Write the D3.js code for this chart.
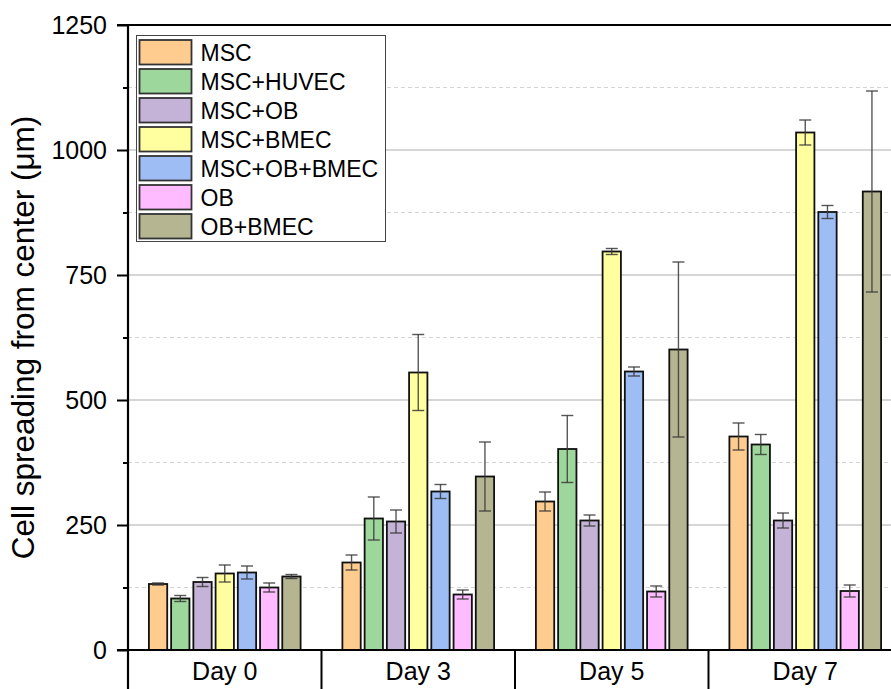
<!DOCTYPE html>
<html>
<head>
<meta charset="utf-8">
<script src="https://cdn.jsdelivr.net/npm/d3@7"></script>
<style>
  html, body { margin: 0; padding: 0; background: #fff; }
  svg { display: block; font-family: "Liberation Sans", Arial, sans-serif; }
</style>
</head>
<body>
<div id="chart"></div>
<script>
// Cell spreading grouped bar chart (mean ± error per group and day)

const days = ["Day 0", "Day 3", "Day 5", "Day 7"];
const groups = ["MSC", "MSC+HUVEC", "MSC+OB", "MSC+BMEC", "MSC+OB+BMEC", "OB", "OB+BMEC"];
const groupColors = ["#FFCC8F", "#9DD79B", "#C5B3D7", "#FFFFA0", "#9EBDF5", "#FFBBFF", "#B5B592"];

// values[group][day]
const means = [
  [132, 175, 297, 427],   // MSC
  [103, 263, 402, 411],   // MSC+HUVEC
  [136, 257, 259, 259],   // MSC+OB
  [153, 555, 797, 1035],  // MSC+BMEC
  [155, 317, 557, 876],   // MSC+OB+BMEC
  [125, 111, 117, 118],   // OB
  [147, 347, 601, 917]    // OB+BMEC
];
const errors = [
  [2, 15, 19, 27],
  [6, 43, 67, 20],
  [9, 23, 11, 15],
  [17, 76, 6, 25],
  [13, 14, 9, 13],
  [9, 9, 11, 12],
  [4, 69, 175, 201]
];

const yMajorTicks = [0, 250, 500, 750, 1000, 1250];
const yMinorTicks = [125, 375, 625, 875, 1125];

const width = 891, height = 689;
const margin = { top: 25, left: 128, bottom: 39 };
const plotRight = 902;
const y0 = height - margin.bottom;

const svg = d3.select("#chart").append("svg")
  .attr("width", width)
  .attr("height", height);

const x = d3.scaleBand(days, [margin.left, plotRight]).padding(0);
const xInner = d3.scaleBand(groups, [0, x.bandwidth()])
  .paddingInner(0.176)
  .paddingOuter(0.94);
const y = d3.scaleLinear([0, 1250], [y0, margin.top]);
const color = d3.scaleOrdinal(groups, groupColors);

// grid
svg.append("g")
  .selectAll("line.minor")
  .data(yMinorTicks)
  .join("line")
  .attr("x1", margin.left).attr("x2", plotRight)
  .attr("y1", d => y(d)).attr("y2", d => y(d))
  .attr("stroke", "#d4d4d4")
  .attr("stroke-width", 1)
  .attr("stroke-dasharray", "4,3");

svg.append("g")
  .selectAll("line.major")
  .data(yMajorTicks.filter(d => d > 0 && d < 1250))
  .join("line")
  .attr("x1", margin.left).attr("x2", plotRight)
  .attr("y1", d => y(d)).attr("y2", d => y(d))
  .attr("stroke", "#c8c8c8")
  .attr("stroke-width", 1.6);

// bars
const rows = [];
groups.forEach((g, gi) => days.forEach((day, di) => {
  rows.push({ group: g, day, value: means[gi][di], err: errors[gi][di] });
}));

const barG = svg.append("g");
barG.selectAll("rect")
  .data(rows)
  .join("rect")
  .attr("x", d => x(d.day) + xInner(d.group))
  .attr("y", d => y(d.value))
  .attr("width", xInner.bandwidth())
  .attr("height", d => y(0) - y(d.value))
  .attr("fill", d => color(d.group))
  .attr("stroke", "#111")
  .attr("stroke-width", 1.8);

// error bars
const errG = svg.append("g")
  .attr("stroke", "#3a3a3a")
  .attr("stroke-opacity", 0.85)
  .attr("stroke-width", 1.4);
const cx = d => x(d.day) + xInner(d.group) + xInner.bandwidth() / 2;
errG.selectAll("line.stem")
  .data(rows)
  .join("line")
  .attr("x1", cx).attr("x2", cx)
  .attr("y1", d => y(d.value + d.err))
  .attr("y2", d => y(d.value - d.err));
errG.selectAll("line.capTop")
  .data(rows)
  .join("line")
  .attr("x1", d => cx(d) - 6).attr("x2", d => cx(d) + 6)
  .attr("y1", d => y(d.value + d.err)).attr("y2", d => y(d.value + d.err));
errG.selectAll("line.capBot")
  .data(rows)
  .join("line")
  .attr("x1", d => cx(d) - 6).attr("x2", d => cx(d) + 6)
  .attr("y1", d => y(d.value - d.err)).attr("y2", d => y(d.value - d.err));

// y axis with outward ticks
const yAxis = d3.axisLeft(y).tickValues(yMajorTicks).tickFormat(d3.format("d"))
  .tickSize(11).tickPadding(10);
const yAxisG = svg.append("g")
  .attr("transform", `translate(${margin.left},0)`)
  .call(yAxis);
yAxisG.select(".domain").remove();
yAxisG.selectAll(".tick line").attr("stroke", "#000").attr("stroke-width", 2);
yAxisG.selectAll(".tick text")
  .attr("font-size", 25)
  .attr("fill", "#000")
  .attr("font-family", "Liberation Sans, Arial, sans-serif");

const yMinorG = svg.append("g")
  .attr("transform", `translate(${margin.left},0)`)
  .call(d3.axisLeft(y).tickValues(yMinorTicks).tickSize(5).tickFormat(""));
yMinorG.select(".domain").remove();
yMinorG.selectAll(".tick line").attr("stroke", "#000").attr("stroke-width", 2);

// frame lines
svg.append("line")
  .attr("x1", margin.left).attr("x2", margin.left)
  .attr("y1", margin.top).attr("y2", height)
  .attr("stroke", "#000").attr("stroke-width", 2.2);
svg.append("line")
  .attr("x1", margin.left - 11).attr("x2", plotRight)
  .attr("y1", margin.top).attr("y2", margin.top)
  .attr("stroke", "#000").attr("stroke-width", 2.2);
svg.append("line")
  .attr("x1", margin.left - 11).attr("x2", plotRight)
  .attr("y1", y0).attr("y2", y0)
  .attr("stroke", "#000").attr("stroke-width", 2.2);

// category separators and labels
svg.append("g")
  .selectAll("line")
  .data(days.slice(1))
  .join("line")
  .attr("x1", d => x(d)).attr("x2", d => x(d))
  .attr("y1", y0).attr("y2", height)
  .attr("stroke", "#000").attr("stroke-width", 2);

svg.append("g")
  .selectAll("text")
  .data(days)
  .join("text")
  .attr("x", d => x(d) + x.bandwidth() / 2)
  .attr("y", 680)
  .attr("text-anchor", "middle")
  .attr("font-size", 25)
  .text(d => d);

// y title
svg.append("text")
  .attr("transform", `translate(34,${(margin.top + y0) / 2}) rotate(-90)`)
  .attr("text-anchor", "middle")
  .attr("font-size", 31.5)
  .text("Cell spreading from center (μm)");

// legend
const legend = svg.append("g");
legend.append("rect")
  .attr("x", 136.5).attr("y", 35.5)
  .attr("width", 249).attr("height", 206)
  .attr("fill", "#fff")
  .attr("stroke", "#444")
  .attr("stroke-width", 1);

const legendRow = legend.selectAll("g.row")
  .data(groups)
  .join("g")
  .attr("transform", (d, i) => `translate(139.5,${40 + i * 29})`);
legendRow.append("rect")
  .attr("width", 52).attr("height", 24.5)
  .attr("fill", d => color(d))
  .attr("stroke", "#333")
  .attr("stroke-width", 1.8);
legendRow.append("text")
  .attr("x", 61)
  .attr("y", 21)
  .attr("font-size", 23)
  .text(d => d);
</script>
</body>
</html>
